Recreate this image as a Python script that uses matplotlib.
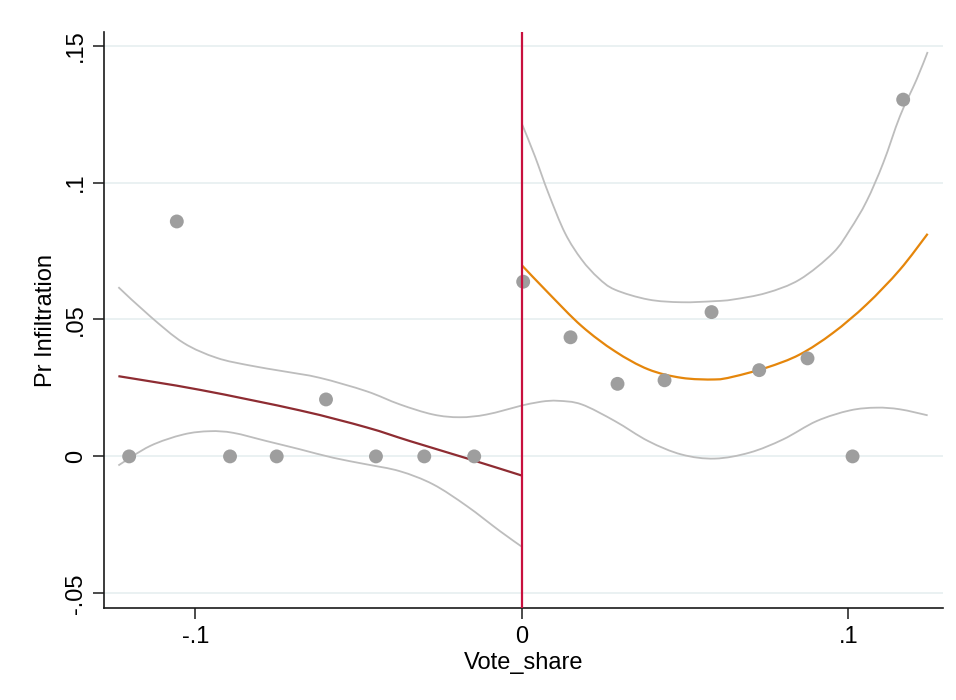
import matplotlib
matplotlib.use("Agg")
import matplotlib.pyplot as plt
from matplotlib.path import Path
from matplotlib.patches import PathPatch

# Binned means of the outcome on each side of the cutoff
bin_x_left = [-0.1203, -0.1057, -0.0894, -0.0751, -0.0600, -0.0447, -0.0299, -0.0146]
bin_y_left = [0.0, 0.0858, 0.0, 0.0, 0.0208, 0.0, 0.0, 0.0]
bin_x_right = [0.0004, 0.0149, 0.0293, 0.0437, 0.0581, 0.0727, 0.0875, 0.1013, 0.1168]
bin_y_right = [0.0638, 0.0435, 0.0265, 0.0278, 0.0527, 0.0315, 0.0358, 0.0, 0.1303]

# Fitted values, left of the cutoff
fit_x_left = [-0.1236, -0.0986, -0.0680, -0.0476, -0.0343, -0.0169, 0.0]
fit_y_left = [0.0293, 0.0243, 0.0168, 0.0106, 0.0056, -0.0007, -0.0070]

# Confidence band, left of the cutoff
ci_x_left_hi = [-0.1236, -0.1139, -0.1037, -0.0935, -0.0833, -0.0731, -0.0619, -0.0476,
                -0.0374, -0.0272, -0.0190, -0.0108, 0.0]
ci_hi_left = [0.0618, 0.0512, 0.0415, 0.0360, 0.0332, 0.0311, 0.0287, 0.0238,
              0.0190, 0.0153, 0.0143, 0.0153, 0.0186]
ci_x_left_lo = [-0.1236, -0.1139, -0.1037, -0.0956, -0.0884, -0.0782, -0.0680, -0.0578,
                -0.0476, -0.0374, -0.0272, -0.0169, -0.0067, 0.0]
ci_lo_left = [-0.0033, 0.0038, 0.0080, 0.0092, 0.0086, 0.0056, 0.0026, -0.0005,
              -0.0029, -0.0054, -0.0102, -0.0181, -0.0273, -0.0330]

# Fitted values, right of the cutoff
fit_x_right = [0.0, 0.0081, 0.0183, 0.0285, 0.0387, 0.0489, 0.0591, 0.0647, 0.0749,
               0.0851, 0.0953, 0.1056, 0.1158, 0.1243]
fit_y_right = [0.0698, 0.0597, 0.0476, 0.0384, 0.0318, 0.0287, 0.0281, 0.0291, 0.0324,
               0.0372, 0.0451, 0.0555, 0.0682, 0.0813]

# Confidence band, right of the cutoff
ci_x_right_hi = [0.0, 0.0040, 0.0081, 0.0132, 0.0183, 0.0234, 0.0285, 0.0387, 0.0489,
                 0.0591, 0.0647, 0.0749, 0.0851, 0.0953, 0.1005, 0.1056, 0.1107,
                 0.1158, 0.1209, 0.1243]
ci_hi_right = [0.1215, 0.1096, 0.0962, 0.0816, 0.0719, 0.0652, 0.0609, 0.0573, 0.0563,
               0.0567, 0.0573, 0.0597, 0.0646, 0.0743, 0.0828, 0.0932, 0.1072,
               0.1242, 0.1376, 0.1477]
ci_x_right_lo = [0.0, 0.0060, 0.0111, 0.0183, 0.0285, 0.0387, 0.0489, 0.0591, 0.0698,
                 0.0800, 0.0903, 0.1005, 0.1086, 0.1158, 0.1243]
ci_lo_right = [0.0186, 0.0200, 0.0203, 0.0190, 0.0129, 0.0056, 0.0007, -0.0008, 0.0014,
               0.0062, 0.0129, 0.0168, 0.0178, 0.0172, 0.0150]

x_ticks = [-0.1, 0.0, 0.1]
x_tick_labels = ["-.1", "0", ".1"]
y_ticks = [-0.05, 0.0, 0.05, 0.1, 0.15]
y_tick_labels = ["-.05", "0", ".05", ".1", ".15"]

plt.rcParams["font.family"] = ["Liberation Sans", "DejaVu Sans"]


def smooth_curve(ax, xs, ys, **kw):
    """Draw a curve through the given points as a chain of cubic Bezier
    segments (Catmull-Rom tangents), so the line bends without corners."""
    n = len(xs)
    verts = [(xs[0], ys[0])]
    codes = [Path.MOVETO]
    for i in range(n - 1):
        x0, y0 = (xs[i - 1], ys[i - 1]) if i > 0 else (xs[i], ys[i])
        x1, y1 = xs[i], ys[i]
        x2, y2 = xs[i + 1], ys[i + 1]
        x3, y3 = (xs[i + 2], ys[i + 2]) if i + 2 < n else (x2, y2)
        c1 = (x1 + (x2 - x0) / 6.0, y1 + (y2 - y0) / 6.0)
        c2 = (x2 - (x3 - x1) / 6.0, y2 - (y3 - y1) / 6.0)
        verts += [c1, c2, (x2, y2)]
        codes += [Path.CURVE4, Path.CURVE4, Path.CURVE4]
    patch = PathPatch(Path(verts, codes), fill=False, capstyle="butt",
                      joinstyle="round", **kw)
    ax.add_patch(patch)
    return patch


fig = plt.figure(figsize=(9.56, 7.0), dpi=100)
ax = fig.add_axes([0.1088, 0.1313, 0.8776, 0.8230])

grid_c = "#e6eff0"
for yt in y_ticks:
    ax.axhline(yt, color=grid_c, lw=1.2, zorder=0)

ci_c = "#bdbdbd"
smooth_curve(ax, ci_x_left_hi, ci_hi_left, edgecolor=ci_c, lw=1.3, zorder=2)
smooth_curve(ax, ci_x_left_lo, ci_lo_left, edgecolor=ci_c, lw=1.3, zorder=2)
smooth_curve(ax, ci_x_right_hi, ci_hi_right, edgecolor=ci_c, lw=1.3, zorder=2)
smooth_curve(ax, ci_x_right_lo, ci_lo_right, edgecolor=ci_c, lw=1.3, zorder=2)

smooth_curve(ax, fit_x_left, fit_y_left, edgecolor="#8e2c32", lw=1.6, zorder=3)
smooth_curve(ax, fit_x_right, fit_y_right, edgecolor="#e5860b", lw=1.6, zorder=3)

ax.scatter(bin_x_left, bin_y_left, s=100, color="#9e9e9e", edgecolors="none", zorder=4)
ax.scatter(bin_x_right, bin_y_right, s=100, color="#9e9e9e", edgecolors="none", zorder=4)

ax.axvline(0.0, color="#c8103e", lw=1.6, zorder=5)

ax.set_xlim(-0.128, 0.129)
ax.set_ylim(-0.0554, 0.155)

ax.set_xticks(x_ticks)
ax.set_xticklabels(x_tick_labels)
ax.set_yticks(y_ticks)
ax.set_yticklabels(y_tick_labels, rotation=90, va="center")

for side in ("top", "right"):
    ax.spines[side].set_visible(False)
for side in ("left", "bottom"):
    ax.spines[side].set_color("#1a1a1a")
    ax.spines[side].set_linewidth(1.2)

ax.tick_params(axis="both", length=8, width=1.1, color="#1a1a1a", labelsize=17)
ax.tick_params(axis="x", pad=5)
ax.tick_params(axis="y", pad=4)

ax.set_xlabel("Vote_share", fontsize=17, labelpad=3)
ax.set_ylabel("Pr Infiltration", fontsize=17, labelpad=6)

fig.savefig("out.png", dpi=100, facecolor="white")
